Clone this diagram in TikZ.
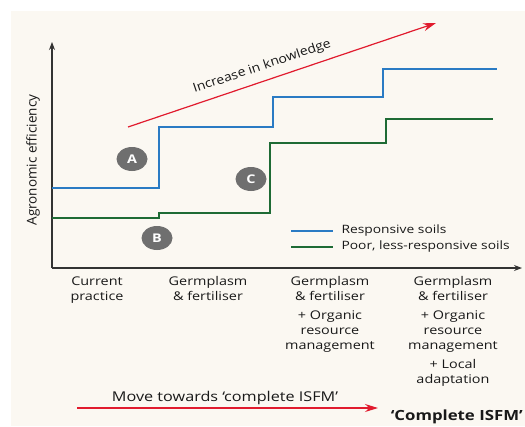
\documentclass[tikz,border=0pt]{standalone}
\usepackage{fontspec}
\setmainfont{Open Sans}[FakeStretch=1.2]
\newfontfamily\plainfont{Open Sans}
\newfontfamily\slopefont{Open Sans}[FakeStretch=1.12]
\usetikzlibrary{arrows.meta,shapes.geometric}
\definecolor{panel}{HTML}{FBF8F2}
\definecolor{soilblue}{HTML}{2A7BC4}
\definecolor{soilgreen}{HTML}{1E6B35}
\definecolor{isfmred}{HTML}{E11B2E}
\definecolor{markgray}{HTML}{6F6F6F}
\begin{document}
\begin{tikzpicture}[x=1pt,y=-1pt,
    every node/.style={font=\fontsize{12}{15}\selectfont, text=black!90},
    axis/.style={draw=black!80, line width=1.1pt, -{Stealth[length=8pt,width=6pt]}},
    stepline/.style={line width=2pt},
    redarrow/.style={draw=isfmred, line width=1.2pt, -{Stealth[length=13pt,width=8pt]}},
    marker/.style={ellipse, fill=markgray, text=white, minimum width=31pt, minimum height=24pt, inner sep=0pt, font=\fontsize{12}{12}\selectfont\bfseries},
    stage/.style={align=center, anchor=north},
    legend/.style={anchor=west, font=\fontsize{11.5}{15}\selectfont}]

    \useasboundingbox (0,0) rectangle (525,426);
    \fill[white] (0,0) rectangle (525,426);
    \fill[panel] (11,11) rectangle (525,426);

    \coordinate (origin) at (52,268);
    \coordinate (ytip) at (52,42);
    \coordinate (xtip) at (522,268);
    \draw[axis] (origin) -- (ytip);
    \draw[axis] (origin) -- (xtip);
    \node[rotate=90, font=\plainfont\fontsize{13.5}{15}\selectfont] (ylabel) at (33,160) {Agronomic efficiency};

    \draw[stepline, soilblue] (52,188) -| (159,127) -| (273,97) -| (383,69) -- (497,69);
    \draw[stepline, soilgreen] (52,218) -| (159,213) -| (270,143) -| (386,119) -- (493,119);

    \coordinate (know1) at (128,127);
    \coordinate (know2) at (436,23);
    \draw[redarrow] (know1) -- (know2) node[pos=0.45, sloped, above=4pt, font=\slopefont\fontsize{12.5}{15}\selectfont] (knowlabel) {Increase in knowledge};

    \node[marker] (markA) at (132,159) {A};
    \node[marker] (markB) at (157,238) {B};
    \node[marker] (markC) at (251,179) {C};

    \node[legend] (legblue) at (338,231) {Responsive soils};
    \node[legend] (leggreen) at (338,247) {Poor, less-responsive soils};
    \draw[stepline, soilblue] (291,231) -- (333,231);
    \draw[stepline, soilgreen] (291,247) -- (333,247);

    \node[stage] (current) at (97,273) {Current\\practice};
    \node[stage] (germ) at (208,273) {Germplasm\\\& fertiliser};
    \node[stage] (organic) at (330,273) {Germplasm\\\& fertiliser\\[4pt]+ Organic\\resource\\management};
    \node[stage] (local) at (453,273) {Germplasm\\\& fertiliser\\[4pt]+ Organic\\resource\\management\\[4pt]+ Local\\adaptation};

    \node[font=\fontsize{13.5}{15}\selectfont] (move) at (225,398) {Move towards ‘complete ISFM’};
    \coordinate (move1) at (77,408);
    \coordinate (move2) at (378,408);
    \draw[redarrow] (move1) -- (move2);
    \node[font=\fontsize{14}{15}\selectfont\bfseries, anchor=east, inner sep=0pt] (complete) at (523,417) {‘Complete ISFM’};

\end{tikzpicture}
\end{document}
